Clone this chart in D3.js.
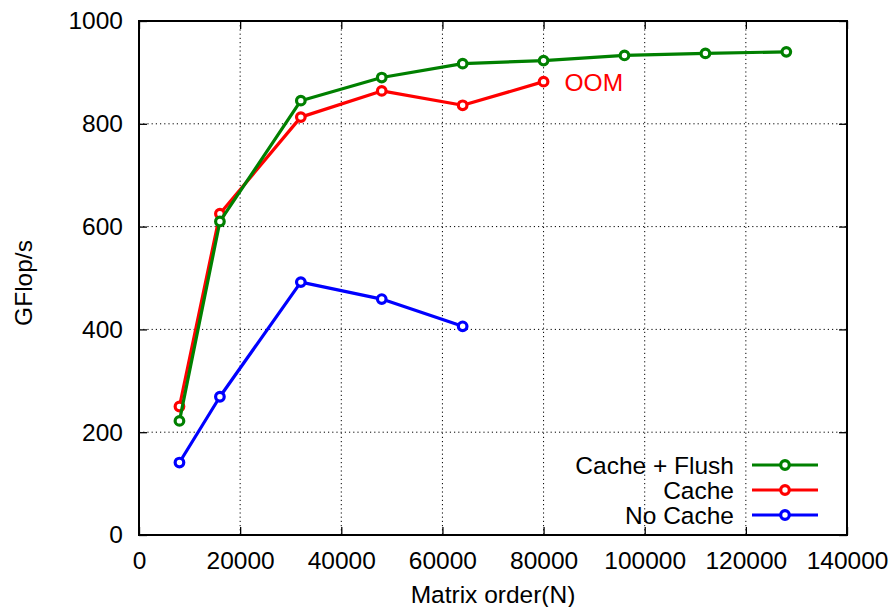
<!DOCTYPE html>
<html>
<head>
<meta charset="utf-8">
<script src="https://cdn.jsdelivr.net/npm/d3@7"></script>
<style>
  body { margin: 0; background: #fff; }
  svg { display: block; font-family: "Liberation Sans", Arial, Helvetica, sans-serif; }
</style>
</head>
<body>
<svg id="chart" width="894" height="607"></svg>
<script>
const matrixOrder = [8000, 16000, 32000, 48000, 64000, 80000, 96000, 112000, 128000];
const cacheFlush = [222, 610, 845, 890, 917, 923, 933, 937, 940];
const cacheOnly = [250, 625, 813, 864, 836, 882];
const noCache = [141, 269, 492, 459, 406];
const xTicks = [0, 20000, 40000, 60000, 80000, 100000, 120000, 140000];
const yTicks = [0, 200, 400, 600, 800, 1000];
const seriesNames = ["Cache + Flush", "Cache", "No Cache"];
const seriesColors = ["#008000", "#ff0000", "#0000ff"];

const series = [cacheFlush, cacheOnly, noCache].map((vals, i) => ({
  name: seriesNames[i],
  color: seriesColors[i],
  points: vals.map((v, j) => [matrixOrder[j], v])
}));

const svg = d3.select("#chart");
const L = 139, R = 847, T = 21, B = 535;
const x = d3.scaleLinear().domain([0, 140000]).range([L, R]);
const y = d3.scaleLinear().domain([0, 1000]).range([B, T]);
const fs = 24.5;

// grid
const grid = svg.append("g");
xTicks.slice(1, -1).forEach(t => {
  grid.append("line").attr("x1", x(t)).attr("x2", x(t)).attr("y1", T).attr("y2", B)
    .attr("stroke", "#000").attr("stroke-width", 1).attr("stroke-dasharray", "1.2,3");
});
yTicks.slice(1, -1).forEach(t => {
  grid.append("line").attr("x1", L).attr("x2", R).attr("y1", y(t)).attr("y2", y(t))
    .attr("stroke", "#000").attr("stroke-width", 1).attr("stroke-dasharray", "1.2,3");
});

// axes with inward ticks
const tl = 8;
svg.append("g").attr("transform", `translate(0,${B})`)
  .call(d3.axisBottom(x).tickValues(xTicks).tickFormat(d3.format("d")).tickSizeInner(-tl).tickSizeOuter(0).tickPadding(17))
  .call(g => g.select(".domain").remove())
  .call(g => g.selectAll("line").attr("stroke-width", 1.3))
  .call(g => g.selectAll("text").attr("font-size", fs).attr("fill", "#000").attr("font-family", "Liberation Sans, Arial, sans-serif"));
svg.append("g").attr("transform", `translate(0,${T})`)
  .call(d3.axisTop(x).tickValues(xTicks).tickFormat("").tickSizeInner(-tl).tickSizeOuter(0))
  .call(g => g.select(".domain").remove())
  .call(g => g.selectAll("line").attr("stroke-width", 1.3));
svg.append("g").attr("transform", `translate(${L},0)`)
  .call(d3.axisLeft(y).tickValues(yTicks).tickFormat(d3.format("d")).tickSizeInner(-tl).tickSizeOuter(0).tickPadding(16))
  .call(g => g.select(".domain").remove())
  .call(g => g.selectAll("line").attr("stroke-width", 1.3))
  .call(g => g.selectAll("text").attr("font-size", fs).attr("fill", "#000").attr("font-family", "Liberation Sans, Arial, sans-serif"));
svg.append("g").attr("transform", `translate(${R},0)`)
  .call(d3.axisRight(y).tickValues(yTicks).tickFormat("").tickSizeInner(-tl).tickSizeOuter(0))
  .call(g => g.select(".domain").remove())
  .call(g => g.selectAll("line").attr("stroke-width", 1.3));

// frame
svg.append("rect").attr("x", L).attr("y", T).attr("width", R - L).attr("height", B - T)
  .attr("fill", "none").attr("stroke", "#000").attr("stroke-width", 2);

// axis titles
svg.append("text").attr("x", 493).attr("y", 603).attr("text-anchor", "middle")
  .attr("font-size", fs).text("Matrix order(N)");
svg.append("text").attr("transform", "translate(32,283) rotate(-90)").attr("text-anchor", "middle")
  .attr("font-size", fs).text("GFlop/s");

// series
const line = d3.line().x(d => x(d[0])).y(d => y(d[1]));
series.slice().reverse().forEach(s => {
  const g = svg.append("g");
  g.append("path").datum(s.points).attr("d", line).attr("fill", "none")
    .attr("stroke", s.color).attr("stroke-width", 3.2).attr("stroke-linejoin", "round");
  g.selectAll("circle").data(s.points).enter().append("circle")
    .attr("cx", d => x(d[0])).attr("cy", d => y(d[1])).attr("r", 4.3)
    .attr("fill", "#fff").attr("stroke", s.color).attr("stroke-width", 3.2);
});

// OOM label
svg.append("text").attr("x", x(matrixOrder[cacheOnly.length - 1]) + 21)
  .attr("y", y(cacheOnly[cacheOnly.length - 1]) + 9)
  .attr("font-size", fs).attr("fill", "#ff0000").text("OOM");

// legend
const lg = svg.append("g");
series.forEach((s, i) => {
  const ly = 465 + i * 25;
  lg.append("text").attr("x", 734).attr("y", ly + 9).attr("text-anchor", "end")
    .attr("font-size", fs).text(s.name);
  lg.append("line").attr("x1", 752).attr("x2", 818).attr("y1", ly).attr("y2", ly)
    .attr("stroke", s.color).attr("stroke-width", 3.2);
  lg.append("circle").attr("cx", 785).attr("cy", ly).attr("r", 4.3)
    .attr("fill", "#fff").attr("stroke", s.color).attr("stroke-width", 3.2);
});
</script>
</body>
</html>
